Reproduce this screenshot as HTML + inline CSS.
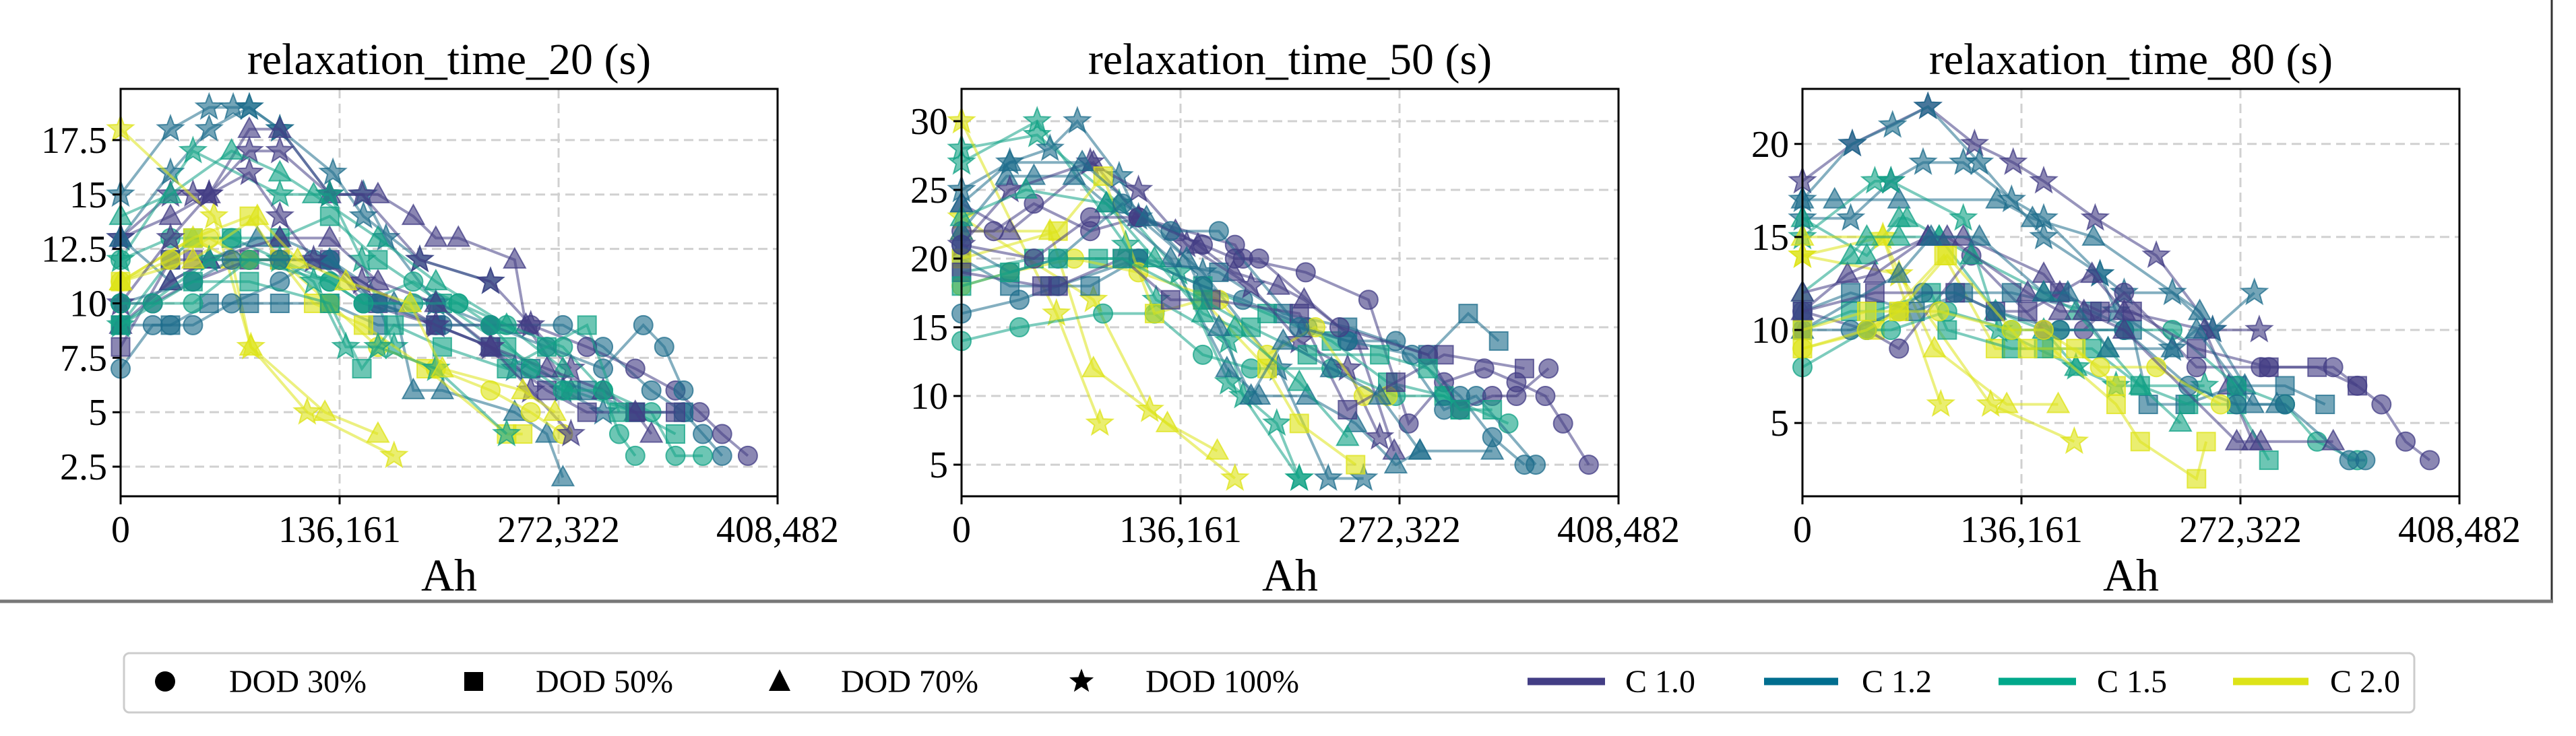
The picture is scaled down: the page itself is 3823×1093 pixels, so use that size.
<!DOCTYPE html>
<html><head><meta charset="utf-8">
<style>
html,body{margin:0;padding:0;background:#fff;}
svg{display:block;font-family:"Liberation Serif","Times New Roman",serif;}
</style></head>
<body>
<svg id="fig" width="3823" height="1093" viewBox="0 0 3823 1093" xmlns="http://www.w3.org/2000/svg">
  <rect x="0" y="0" width="3823" height="1093" fill="#fff"/>
  <line x1="3787" y1="0" x2="3787" y2="893" stroke="#333" stroke-width="3"/>
  <line x1="0" y1="893" x2="3789" y2="893" stroke="#777" stroke-width="5"/>
  <g id="panels"></g>
  <g id="legend">
    <rect x="184" y="970" width="3399" height="88" rx="8" fill="#fff" stroke="#ccc" stroke-width="3"/>
    <circle cx="245" cy="1012" r="15" fill="#000"/>
    <text x="340" y="1028" font-size="48">DOD 30%</text>
    <rect x="689" y="998" width="28" height="28" fill="#000"/>
    <text x="795" y="1028" font-size="48">DOD 50%</text>
    <polygon points="1157,994 1173,1026 1141,1026" fill="#000"/>
    <text x="1248" y="1028" font-size="48">DOD 70%</text>
    <g id="legstar"></g>
    <text x="1700" y="1028" font-size="48">DOD 100%</text>
    <line x1="2267" y1="1012" x2="2382" y2="1012" stroke="#433e85" stroke-width="11"/>
    <text x="2412" y="1028" font-size="48">C 1.0</text>
    <line x1="2618" y1="1012" x2="2728" y2="1012" stroke="#006e8f" stroke-width="11"/>
    <text x="2763" y="1028" font-size="48">C 1.2</text>
    <line x1="2966" y1="1012" x2="3081" y2="1012" stroke="#00a88b" stroke-width="11"/>
    <text x="3112" y="1028" font-size="48">C 1.5</text>
    <line x1="3314" y1="1012" x2="3426" y2="1012" stroke="#dde318" stroke-width="11"/>
    <text x="3458" y="1028" font-size="48">C 2.0</text>
  </g>
</svg>
<script>
// ---- data (x in thousand Ah, y in seconds) ----
const xTickValues = [0, 136161, 272322, 408482];
const xTickLabels = ["0", "136,161", "272,322", "408,482"];
const panelTitles = ["relaxation_time_20 (s)", "relaxation_time_50 (s)", "relaxation_time_80 (s)"];
const p1Ticks = [2.5, 5, 7.5, 10, 12.5, 15, 17.5];
const p1TickLabels = ["2.5", "5", "7.5", "10", "12.5", "15", "17.5"];
const p2Ticks = [5, 10, 15, 20, 25, 30];
const p3Ticks = [5, 10, 15, 20];
const p1Ylim = [1.14, 19.85];
const p2Ylim = [2.7, 32.35];
const p3Ylim = [1.06, 22.96];
const cRates = ["C 1.0", "C 1.2", "C 1.5", "C 2.0"];

const p1Series = [
 {c:1,m:"*",x:[0,31,55,70,80,99,132,151,186,230],y:[15,18,19,19,19,18,16,14,12,11]},
 {c:1,m:"*",x:[0,31,55,80,99,130,151,165,196,245,275,300],y:[13,16,18,19,18,15,15,13,10,7,6,5]},
 {c:0,m:"^",x:[0,31,55,80,99,130,160,182,196,210,245,252,280],y:[13,14,15,18,18,15,15,14,13,13,12,9,6]},
 {c:0,m:"*",x:[0,31,45,55,80,99,130,150,186,230,255,280],y:[13,15,15,15,17,17,15,15,12,11,9,7]},
 {c:2,m:"*",x:[0,45,99,130,150,170],y:[12,17,15,15,12,8]},
 {c:2,m:"^",x:[0,31,69,99,120,160,196,240,275],y:[14,15,17,16,15,13,11,9,7]},
 {c:3,m:"*",x:[0,58,81,116,170],y:[18,14,8,5,3]},
 {c:3,m:"^",x:[0,45,69,81,127,160],y:[11,13,12,8,5,4]},
 {c:2,m:"s",x:[0,31,45,69,99,130,160,200,240,280,320,345],y:[9,12,13,13,13,14,12,10,8,6,5,4]},
 {c:1,m:"o",x:[0,20,31,45,69,99,120,160,196,230,275,300,330,350,362,374],y:[7,9,9,9,10,11,12,10,10,9,9,8,6,5,4,3]},
 {c:0,m:"o",x:[0,20,45,80,99,130,151,196,230,255,290,320,345,360,374,390],y:[10,10,11,12,12,12,10,9,9,9,8,7,6,5,4,3]},
 {c:1,m:"s",x:[0,31,55,80,99,130,160,196,230,255,290,320,350],y:[9,9,10,10,10,10,9,9,8,7,6,5,5]},
 {c:2,m:"o",x:[0,31,69,99,130,151,182,210,240,275,300,330,345,362],y:[12,13,13,12,11,10,11,10,9,8,6,5,3,3]},
 {c:0,m:"s",x:[0,31,45,80,99,130,160,196,230,265,290,320,345],y:[8,12,12,12,12,12,10,9,8,6,5,5,5]},
 {c:1,m:"^",x:[0,31,55,85,99,130,170,182,200,245,265,275],y:[13,11,12,13,13,12,10,6,6,5,4,2]},
 {c:0,m:"^",x:[0,31,55,99,130,160,196,230,265,300,320,330],y:[9,11,12,13,13,11,10,8,7,6,5,4]},
 {c:3,m:"o",x:[0,31,55,80,99,130,160,196,230,255,275],y:[11,12,13,12,12,10,8,7,6,5,4]},
 {c:3,m:"s",x:[0,45,80,99,120,151,190,240,250],y:[11,13,14,12,10,9,7,4,4]},
 {c:2,m:"*",x:[0,55,99,120,140,160,196,240],y:[9,12,12,11,8,8,7,4]},
 {c:1,m:"o",x:[0,45,69,99,130,160,200,230,265,300,325,338,350],y:[10,11,12,12,12,10,9,9,8,7,9,8,6]},
 {c:2,m:"s",x:[0,45,80,130,150,170,200,240,265,290,310],y:[9,11,11,10,7,9,8,7,8,9,5]},
 {c:0,m:"*",x:[0,31,55,80,99,120,150,196,230,255,280],y:[10,13,15,16,14,12,11,9,8,6,4]},
 {c:2,m:"o",x:[0,20,45,80,130,151,182,210,230,255,275,300,310,320],y:[10,10,10,12,11,10,10,10,9,7,6,6,4,3]},
 {c:3,m:"^",x:[0,45,85,110,140,180,200,250,270],y:[11,12,14,12,11,10,7,6,5]}
];
const p2Series = [
 {c:2,m:"*",x:[0,47,102,121,166,175,210],y:[27,30,21,17,14,10,4]},
 {c:2,m:"*",x:[0,47,98,135,166,196,210],y:[28,29,24,19,11,8,4]},
 {c:1,m:"*",x:[0,30,55,72,98,110,150,197,228,250],y:[25,27,28,30,26,23,19,12,4,4]},
 {c:3,m:"*",x:[0,59,86],y:[30,16,8]},
 {c:3,m:"*",x:[0,82,117,170],y:[23,17,9,4]},
 {c:3,m:"^",x:[0,55,82,128,159],y:[22,22,12,8,6]},
 {c:0,m:"^",x:[0,30,82,110,133,147,169,197,213,246,269],y:[24,22,27,23,22,21,19,18,17,14,6]},
 {c:0,m:"o",x:[0,20,45,80,110,170,175,214,253,278,300,325,345,363,374,390],y:[22,22,24,22,23,21,20,19,17,8,11,12,11,10,8,5]},
 {c:1,m:"^",x:[0,28,45,70,90,130,165,185,215,245,270,285],y:[22,26,26,26,24,20,12,10,10,8,5,6]},
 {c:1,m:"s",x:[0,30,55,80,110,160,200,240,290,315,334],y:[20,18,18,18,20,19,16,15,13,16,14]},
 {c:2,m:"o",x:[0,36,88,120,150,180,230,270,300,340],y:[14,15,16,16,13,12,12,10,10,8]},
 {c:2,m:"s",x:[0,45,85,110,150,190,230,265,300,310],y:[19,20,20,20,18,16,14,11,10,9]},
 {c:1,m:"o",x:[0,36,60,110,150,175,215,240,270,300,320,357],y:[16,17,18,20,18,17,15,14,14,9,10,5]},
 {c:0,m:"*",x:[0,30,80,110,140,180,210,240,260],y:[21,25,27,25,21,18,14,12,7]},
 {c:3,m:"o",x:[0,30,70,110,160,190,220,250,265],y:[18,19,20,19,17,13,15,10,10]},
 {c:3,m:"s",x:[0,60,88,120,150,190,210,245],y:[20,22,26,16,17,12,8,5]},
 {c:0,m:"s",x:[0,50,60,100,130,155,210,240,270,300,350],y:[19,18,18,20,17,17,16,9,11,13,12]},
 {c:2,m:"^",x:[0,40,90,120,150,170,210,240],y:[23,25,24,20,16,15,11,7]},
 {c:1,m:"o",x:[0,30,60,100,130,160,210,240,280,310,330,350],y:[21,19,20,24,22,22,15,14,13,10,7,5]},
 {c:0,m:"o",x:[0,45,80,110,150,170,185,235,290,310,330,345,365],y:[21,20,23,23,21,20,20,15,13,9,10,10,12]},
 {c:2,m:"s",x:[0,30,60,100,150,180,215,260,290,310,330],y:[18,19,20,20,17,15,13,13,12,9,9]},
 {c:1,m:"^",x:[0,30,75,115,140,160,180,200,230,260,285,330],y:[24,27,27,23,20,15,10,14,12,10,6,6]}
];
const p3Series = [
 {c:0,m:"*",x:[0,31,78,107,131,150,182,220,255,284],y:[18,20,22,20,19,18,16,14,10,10]},
 {c:1,m:"*",x:[0,31,56,78,110,150,185,200,230,255,281],y:[17,20,21,22,19,15,13,12,12,10,12]},
 {c:1,m:"^",x:[0,20,60,121,143,181,247,275],y:[17,17,17,17,16,15,11,7]},
 {c:1,m:"*",x:[0,30,55,75,100,130,150,185,195,230],y:[16,16,18,19,19,17,16,13,11,9]},
 {c:2,m:"*",x:[0,45,55,100,122,170,195,250],y:[15,18,18,16,10,8,7,7]},
 {c:2,m:"^",x:[0,40,60,65,85,120,150,170],y:[16,14,16,16,15,11,10,8]},
 {c:3,m:"*",x:[0,50,86],y:[14,15,6]},
 {c:3,m:"^",x:[0,50,82,127,159],y:[15,15,9,6,6]},
 {c:3,m:"*",x:[0,60,117,169],y:[14,13,6,4]},
 {c:3,m:"s",x:[0,45,88,120,155,195,210,245,251],y:[9,10,14,9,9,6,4,2,4]},
 {c:0,m:"^",x:[0,28,78,100,150,160,180,200,250,265,280],y:[11,13,15,15,13,12,13,11,10,7,4]},
 {c:0,m:"o",x:[0,40,60,105,150,175,200,245,285,290,330,345,360,375,390],y:[11,10,9,14,10,10,12,8,8,8,8,7,6,4,3]},
 {c:1,m:"s",x:[0,30,70,100,130,180,205,215,238,270,300,325],y:[11,12,11,12,12,11,10,6,6,7,7,6]},
 {c:2,m:"o",x:[0,40,55,90,130,160,200,230,270,300,320,345],y:[8,10,10,11,10,10,10,10,7,6,4,3]},
 {c:2,m:"s",x:[0,30,45,80,90,130,150,180,210,240,270,290],y:[10,11,11,12,10,9,9,9,7,6,6,3]},
 {c:0,m:"s",x:[0,45,95,120,140,160,185,205,245,290,320,345],y:[11,12,12,11,11,12,11,11,9,8,8,7]},
 {c:1,m:"o",x:[0,30,60,75,95,120,160,200,240,270,300,340,350],y:[10,10,11,12,12,11,10,10,7,6,6,3,3]},
 {c:3,m:"o",x:[0,40,60,85,130,150,185,220,260],y:[9,10,11,11,10,10,8,8,6]},
 {c:2,m:"^",x:[0,30,40,60,85,105,150,170,190,210,235],y:[12,14,15,15,15,14,12,11,9,7,5]},
 {c:0,m:"^",x:[0,45,78,90,140,160,175,200,270,285,330],y:[12,13,15,15,12,11,11,10,4,4,4]},
 {c:1,m:"^",x:[0,60,80,110,150,165,190,230,245,280,295],y:[10,13,15,15,12,12,9,9,10,6,6]},
 {c:3,m:"s",x:[0,40,60,90,140,170,195],y:[10,11,11,14,9,9,7]}
];

// ---- rendering ----
const colors = ["#433e85", "#1f6e8c", "#13a386", "#dde318"];
const NS = "http://www.w3.org/2000/svg";
const panelLeft = [179, 1427, 2675];
const AX_W = 975, AX_T = 132, AX_B = 737;
const XMAX = 408482;

function mk(tag, attrs, parent) {
  const e = document.createElementNS(NS, tag);
  for (const k in attrs) e.setAttribute(k, attrs[k]);
  parent.appendChild(e);
  return e;
}
function starPts(cx, cy, R) {
  const r = R * 0.42, pts = [];
  for (let i = 0; i < 10; i++) {
    const a = -Math.PI / 2 + i * Math.PI / 5, rr = i % 2 ? r : R;
    pts.push((cx + rr * Math.cos(a)).toFixed(1) + "," + (cy + rr * Math.sin(a)).toFixed(1));
  }
  return pts.join(" ");
}
function marker(g, m, x, y, col) {
  let e;
  const st = {fill: col, "fill-opacity": "0.62", stroke: col, "stroke-opacity": "0.75", "stroke-width": "2"};
  if (m === "o") e = mk("circle", Object.assign({cx: x, cy: y, r: 14}, st), g);
  else if (m === "s") e = mk("rect", Object.assign({x: x - 13.5, y: y - 13.5, width: 27, height: 27}, st), g);
  else if (m === "^") e = mk("polygon", Object.assign({points: `${x},${y-17} ${x+16},${y+12} ${x-16},${y+12}`}, st), g);
  else e = mk("polygon", Object.assign({points: starPts(x, y, 20)}, st), g);
  
  
}

const panels = [
  {title: panelTitles[0], ylim: p1Ylim, ticks: p1Ticks, labels: p1TickLabels, series: p1Series},
  {title: panelTitles[1], ylim: p2Ylim, ticks: p2Ticks, labels: p2Ticks.map(String), series: p2Series},
  {title: panelTitles[2], ylim: p3Ylim, ticks: p3Ticks, labels: p3Ticks.map(String), series: p3Series}
];
const root = document.getElementById("panels");
panels.forEach((p, pi) => {
  const L = panelLeft[pi], R = L + AX_W;
  const xs = v => L + v / XMAX * AX_W;
  const ys = v => AX_B - (v - p.ylim[0]) / (p.ylim[1] - p.ylim[0]) * (AX_B - AX_T);
  const g = mk("g", {}, root);
  
  
  const t = mk("text", {x: (L + R) / 2, y: 110, "font-size": 66, "text-anchor": "middle"}, g);
  t.textContent = p.title;
  
  
  p.ticks.forEach(v => {
    const l = mk("line", {x1: L, x2: R, y1: ys(v), y2: ys(v), stroke: "#d0d0d0", "stroke-width": 3, "stroke-dasharray": "14,8"}, g);
    
    
  });
  xTickValues.slice(1, 3).forEach(v => {
    const l = mk("line", {x1: xs(v), x2: xs(v), y1: AX_T, y2: AX_B, stroke: "#d0d0d0", "stroke-width": 3, "stroke-dasharray": "14,8"}, g);
    
    
  });
  p.series.forEach(s => {
    const col = colors[s.c];
    const sg = mk("g", {}, g);
    
    
    const pts = s.x.map((xv, i) => xs(xv * 1000).toFixed(1) + "," + ys(s.y[i]).toFixed(1)).join(" ");
    const pl = mk("polyline", {points: pts, fill: "none", stroke: col, "stroke-opacity": "0.55", "stroke-width": 4}, sg);
    
    
    s.x.forEach((xv, i) => marker(sg, s.m, xs(xv * 1000), ys(s.y[i]), col));
  });
  const fr = mk("rect", {x: L, y: AX_T, width: AX_W, height: AX_B - AX_T, fill: "none", stroke: "#000", "stroke-width": 3}, g);
  
  
  p.ticks.forEach((v, i) => {
    mk("line", {x1: L - 12, x2: L, y1: ys(v), y2: ys(v), stroke: "#000", "stroke-width": 3}, g);
    const tl = mk("text", {x: L - 20, y: ys(v) + 19, "font-size": 56, "text-anchor": "end"}, g);
    tl.textContent = p.labels[i];
    
    
  });
  xTickValues.forEach((v, i) => {
    mk("line", {x1: xs(v), x2: xs(v), y1: AX_B, y2: AX_B + 12, stroke: "#000", "stroke-width": 3}, g);
    const tl = mk("text", {x: xs(v), y: 805, "font-size": 56, "text-anchor": "middle"}, g);
    tl.textContent = xTickLabels[i];
    
    
  });
  const xl = mk("text", {x: (L + R) / 2, y: 877, "font-size": 68, "text-anchor": "middle"}, g);
  xl.textContent = "Ah";
  
  
});
const ls = mk("polygon", {points: starPts(1605, 1012, 19), fill: "#000"}, document.getElementById("legstar"));


</script>
</body></html>
